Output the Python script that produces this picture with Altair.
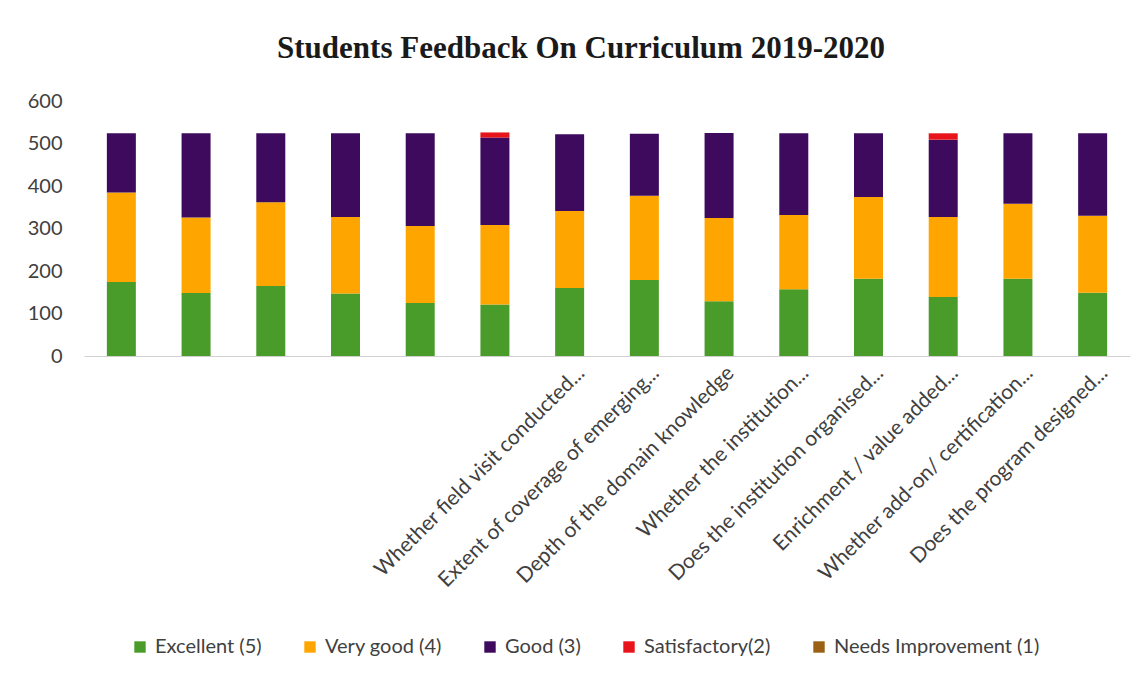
import altair as alt
import pandas as pd

labels = [
    "", "", "", "", "", "",
    "Whether field visit conducted...",
    "Extent of coverage of emerging...",
    "Depth of the domain knowledge",
    "Whether the institution...",
    "Does the institution organised...",
    "Enrichment / value added...",
    "Whether add-on/ certification...",
    "Does the program designed...",
]

series = ["Excellent (5)", "Very good (4)", "Good (3)", "Satisfactory(2)", "Needs Improvement (1)"]
colors = ["#4a9c2a", "#ffa500", "#3d0a5e", "#e8141b", "#9a6114"]

excellent = [174, 148, 165, 147, 125, 121, 160, 179, 129, 157, 182, 139, 182, 149]
very_good = [211, 178, 197, 180, 181, 187, 181, 198, 196, 175, 192, 188, 176, 181]
good = [139, 198, 162, 197, 218, 206, 181, 146, 200, 192, 150, 182, 166, 194]
satisfactory = [0, 0, 0, 0, 0, 12, 0, 0, 0, 0, 0, 15, 0, 0]
needs_improvement = [0, 0, 0, 0, 0, 0, 0, 0, 0, 0, 0, 0, 0, 0]

values = [excellent, very_good, good, satisfactory, needs_improvement]

rows = []
for s_i, (name, vals) in enumerate(zip(series, values)):
    for q_i, v in enumerate(vals):
        rows.append({"q": q_i, "series": name, "order": s_i, "value": v})
df = pd.DataFrame(rows)

label_js = "[" + ",".join("'" + l.replace("'", "\\'") + "'" for l in labels) + "]"

FONT = "Lato"

chart = alt.Chart(df).mark_bar(size=29).encode(
    x=alt.X(
        "q:O",
        title=None,
        scale=alt.Scale(paddingInner=0.6, paddingOuter=0.3),
        axis=alt.Axis(
            labelExpr=label_js + "[datum.value]",
            labelAngle=-45,
            labelAlign="right",
            labelBaseline="top",
            labelOffset=4,
            labelPadding=6,
            labelFont=FONT,
            labelFontSize=21,
            labelColor="#404040",
            labelOverlap=False,
            labelLimit=400,
            ticks=False,
            domainColor="#d0d0d0",
            domainWidth=1,
        ),
    ),
    y=alt.Y(
        "value:Q",
        title=None,
        stack="zero",
        scale=alt.Scale(domain=[0, 600], nice=False),
        axis=alt.Axis(
            values=[0, 100, 200, 300, 400, 500, 600],
            grid=False,
            domain=False,
            ticks=False,
            labelFont=FONT,
            labelFontSize=20,
            labelColor="#404040",
            labelPadding=22,
        ),
    ),
    color=alt.Color(
        "series:N",
        scale=alt.Scale(domain=series, range=colors),
        sort=series,
        legend=alt.Legend(
            title=None,
            orient="none",
            direction="horizontal",
            legendX=46,
            legendY=536,
            symbolType="square",
            symbolSize=130,
            symbolStrokeWidth=0,
            labelFont=FONT,
            labelFontSize=20,
            labelColor="#404040",
            labelLimit=400,
            columnPadding=38,
            labelOffset=5,
        ),
    ),
    order=alt.Order("order:Q"),
).properties(
    width=1046,
    height=255,
    title=alt.TitleParams(
        "Students Feedback On Curriculum 2019-2020",
        font="Liberation Serif",
        fontSize=31,
        fontWeight="bold",
        color="#1a1a1a",
        anchor="middle",
        dx=-26,
        offset=26,
    ),
    autosize=alt.AutoSizeParams(type="none"),
    padding={"left": 76, "top": 93, "right": 8, "bottom": 300},
).configure_view(stroke=None)

chart.save("out.html", embed_options={"renderer": "svg", "actions": False})
